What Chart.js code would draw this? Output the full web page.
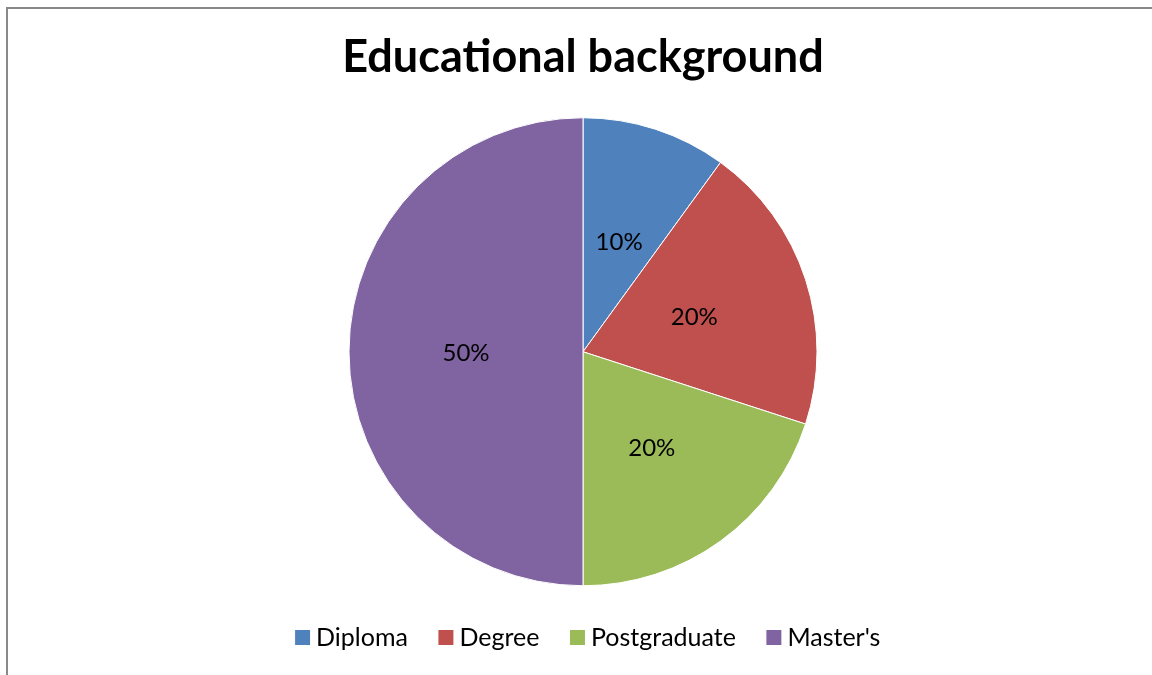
<!DOCTYPE html>
<html>
<head>
<meta charset="utf-8">
<script src="https://cdn.jsdelivr.net/npm/chart.js@4.4.1/dist/chart.umd.min.js"></script>
<style>
  html, body { margin: 0; padding: 0; background: #fff; overflow: hidden; }
  #frame {
    position: absolute; left: 6px; top: 7px; width: 1200px; height: 720px;
    border-left: 2px solid #898989; border-top: 2px solid #898989;
  }
  #wrap { position: absolute; left: 14px; top: 0; width: 1138px; height: 660px; }
</style>
</head>
<body>
<div id="frame"></div>
<div id="wrap"><canvas id="pie"></canvas></div>
<script>
const categories = ["Diploma", "Degree", "Postgraduate", "Master's"];
const shares = [10, 20, 20, 50];
const sliceColors = ["#4F81BD", "#C0504D", "#9BBB59", "#8064A2"];
const titleText = "Educational background";

const FONT = "Lato, 'Open Sans', sans-serif";

// percent labels at the middle of each slice radius
const sliceLabels = {
  id: "sliceLabels",
  afterDatasetsDraw(chart) {
    const { ctx } = chart;
    const meta = chart.getDatasetMeta(0);
    const total = shares.reduce((a, b) => a + b, 0);
    ctx.save();
    ctx.font = `24px ${FONT}`;
    ctx.fillStyle = "#000";
    ctx.textAlign = "center";
    ctx.textBaseline = "middle";
    meta.data.forEach((arc, i) => {
      const pos = arc.tooltipPosition();
      ctx.fillText(Math.round(shares[i] / total * 100) + "%", pos.x, pos.y + 2);
    });
    ctx.restore();
  },
};

// legend sits a little right of the pie centre in the original
const legendNudge = {
  id: "legendNudge",
  afterLayout(chart) {
    chart.legend.left += 8;
    chart.legend.right += 8;
  },
};

const chart = new Chart(document.getElementById("pie"), {
  type: "pie",
  data: {
    labels: categories,
    datasets: [{
      data: shares,
      backgroundColor: sliceColors,
      borderColor: "#ffffff",
      borderWidth: 1,
    }],
  },
  options: {
    responsive: true,
    maintainAspectRatio: false,
    animation: false,
    radius: 234,
    layout: { padding: 0 },
    plugins: {
      title: {
        display: true,
        text: titleText,
        color: "#000",
        font: { family: FONT, size: 45, weight: "bold", lineHeight: 1.2 },
        padding: { top: 30, bottom: 31.5 },
      },
      legend: {
        display: true,
        position: "bottom",
        labels: {
          color: "#000",
          font: { family: FONT, size: 25 },
          usePointStyle: true,
          pointStyle: "rect",
          boxWidth: 2,
          boxHeight: 16,
          padding: 37,
        },
      },
      tooltip: { enabled: false },
    },
  },
  plugins: [sliceLabels, legendNudge],
});
</script>
</body>
</html>
